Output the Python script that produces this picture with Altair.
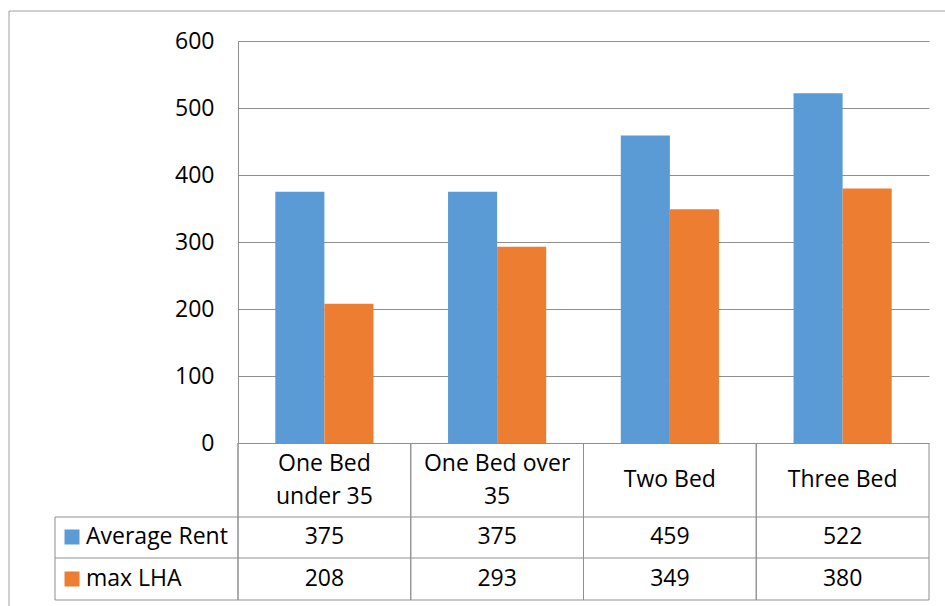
import altair as alt
import pandas as pd

# Rent vs. maximum Local Housing Allowance by property size
categories = ["One Bed under 35", "One Bed over 35", "Two Bed", "Three Bed"]
category_labels = ["One Bed\nunder 35", "One Bed over\n35", "Two Bed", "Three Bed"]
series = ["Average Rent", "max LHA"]
average_rent = [375, 375, 459, 522]
max_lha = [208, 293, 349, 380]
colors = ["#5B9BD5", "#ED7D31"]
y_ticks = [0, 100, 200, 300, 400, 500, 600]

FONT = "Open Sans"
FS = 23
LINE = "#8f8f8f"
W, H = 691, 402

long_df = pd.DataFrame(
    [
        {"category": c, "series": s, "value": v}
        for s, vals in zip(series, [average_rent, max_lha])
        for c, v in zip(categories, vals)
    ]
)
cat_df = pd.DataFrame({"category": categories, "label": category_labels})
series_df = pd.DataFrame({"series": series})
one = pd.DataFrame({"k": [0]})

x_cat = alt.X(
    "category:N",
    sort=categories,
    scale=alt.Scale(domain=categories, paddingInner=0, paddingOuter=0),
    axis=None,
    title=None,
)
color_enc = alt.Color(
    "series:N", scale=alt.Scale(domain=series, range=colors), legend=None
)
row_y = alt.Y(
    "series:N",
    sort=series,
    scale=alt.Scale(domain=series, range=[496, 538], padding=0),
    axis=None,
    title=None,
)

bars = (
    alt.Chart(long_df)
    .mark_bar()
    .encode(
        x=x_cat,
        xOffset=alt.XOffset(
            "series:N",
            sort=series,
            scale=alt.Scale(domain=series, paddingInner=0, paddingOuter=0.76),
        ),
        y=alt.Y(
            "value:Q",
            scale=alt.Scale(domain=[0, 600], nice=False),
            axis=alt.Axis(
                values=y_ticks,
                grid=True,
                gridColor=LINE,
                gridWidth=1,
                ticks=False,
                domain=True,
                domainColor=LINE,
                labelFont=FONT,
                labelFontSize=FS,
                labelColor="#000000",
                labelPadding=24,
                title=None,
            ),
            title=None,
        ),
        color=color_enc,
    )
)


def hline(y, x0, x1):
    return alt.Chart(one).mark_rule(color=LINE, strokeWidth=1).encode(
        x=alt.value(x0), x2=alt.value(x1), y=alt.value(y)
    )


def vline(x, y0, y1):
    return alt.Chart(one).mark_rule(color=LINE, strokeWidth=1).encode(
        x=alt.value(x), y=alt.value(y0), y2=alt.value(y1)
    )


# data table grid
table_lines = [
    hline(476, -183, W),
    hline(517, -183, W),
    hline(559, -183, W),
    vline(-183, 476, 559),
    vline(0, 402, 559),
]


def col_edges(band_pos):
    return alt.Chart(cat_df).mark_rule(color=LINE, strokeWidth=1).encode(
        x=alt.X("category:N", sort=categories, bandPosition=band_pos,
                scale=alt.Scale(domain=categories, paddingInner=0, paddingOuter=0),
                axis=None),
        y=alt.value(402),
        y2=alt.value(559),
    )


def cat_text(two_lines, y):
    test = "indexof(datum.label, '\\n') >= 0"
    return (
        alt.Chart(cat_df)
        .transform_filter(test if two_lines else "!(" + test + ")")
        .mark_text(
            font=FONT, fontSize=FS, lineBreak="\n", lineHeight=33,
            baseline="middle", align="center", color="#000000",
        )
        .encode(x=x_cat, y=alt.value(y), text="label:N")
    )


value_text = alt.Chart(long_df).mark_text(
    font=FONT, fontSize=FS, baseline="middle", align="center", color="#000000",
).encode(x=x_cat, y=row_y, text="value:Q")

swatches = alt.Chart(series_df).mark_square(size=225, opacity=1).encode(
    x=alt.value(-166), y=row_y, color=color_enc
)
legend_text = alt.Chart(series_df).mark_text(
    font=FONT, fontSize=FS, baseline="middle", align="left", color="#000000",
).encode(x=alt.value(-152), y=row_y, text="series:N")

frame = alt.Chart(one).mark_rect(
    fillOpacity=0, stroke="#a0a0a0", strokeWidth=1
).encode(
    x=alt.value(-229), x2=alt.value(720), y=alt.value(-30), y2=alt.value(590)
)

chart = (
    alt.layer(
        frame,
        bars,
        *table_lines,
        col_edges(0),
        col_edges(1),
        cat_text(True, 423),
        cat_text(False, 439),
        value_text,
        swatches,
        legend_text,
    )
    .resolve_scale(y="independent")
    .properties(
        width=W,
        height=H,
        padding={"left": 238, "top": 41, "right": 16, "bottom": 163},
        autosize=alt.AutoSizeParams(type="none"),
        background="#ffffff",
    )
    .configure_view(stroke=None)
)

chart.save("out.html", embed_options={"renderer": "svg", "actions": False})
